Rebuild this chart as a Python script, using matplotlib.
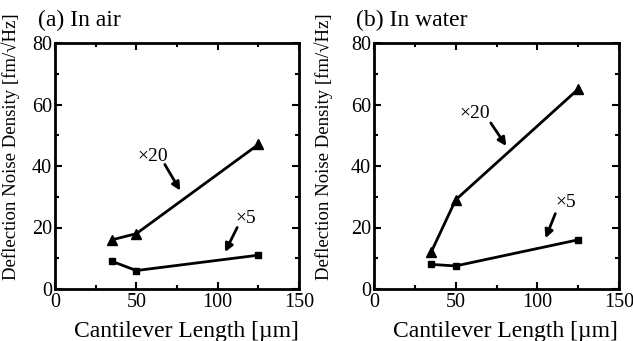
import matplotlib
matplotlib.use("Agg")
import matplotlib.pyplot as plt
from matplotlib.ticker import MultipleLocator

plt.rcParams['font.family'] = ['Liberation Serif', 'DejaVu Serif']
plt.rcParams['mathtext.fontset'] = 'stix'

lengths = [35, 50, 125]
air_x20 = [16, 18, 47]
air_x5 = [9, 6, 11]
water_x20 = [12, 29, 65]
water_x5 = [8, 7.5, 16]

titles = ["(a) In air", "(b) In water"]
xlabel = "Cantilever Length [µm]"
ylabel = "Deflection Noise Density [fm/√Hz]"

# annotation: (text pos, arrow start, arrow end)
ann = [
    [("×20", (60, 43), (67.5, 40.5), (77, 32)),
     ("×5", (117, 23), (112, 20), (104.5, 12))],
    [("×20", (61.5, 57), (71.5, 54), (81, 46.5)),
     ("×5", (117.5, 28), (111, 24.5), (105, 16.5))],
]

fig = plt.figure(figsize=(6.33, 3.41), dpi=100)
axes = [fig.add_axes([55/633, 1-289/341, 244/633, 246/341]),
        fig.add_axes([374/633, 1-289/341, 245/633, 246/341])]
data = [(air_x20, air_x5), (water_x20, water_x5)]
ylab_x = [-0.143, -0.167]
title_x = [38, 356]

for i, ax in enumerate(axes):
    t, s = data[i]
    ax.plot(lengths, t, color='black', lw=2, marker='^', ms=6.5)
    ax.plot(lengths, s, color='black', lw=2, marker='s', ms=5)
    ax.set_xlim(0, 150)
    ax.set_ylim(0, 80)
    ax.xaxis.set_major_locator(MultipleLocator(50))
    ax.xaxis.set_minor_locator(MultipleLocator(25))
    ax.yaxis.set_major_locator(MultipleLocator(20))
    ax.yaxis.set_minor_locator(MultipleLocator(10))
    ax.tick_params(which='both', direction='in', top=True, right=True,
                   labelsize=14.5, width=1.5)
    ax.tick_params(axis='x', pad=3)
    ax.tick_params(axis='y', pad=2)
    ax.tick_params(which='major', length=5)
    ax.tick_params(which='minor', length=3)
    for sp in ax.spines.values():
        sp.set_linewidth(2)
    ax.set_xlabel(xlabel, fontsize=17)
    ax.set_ylabel(ylabel, fontsize=13.5)
    ax.xaxis.set_label_coords(0.537, -0.13)
    ax.yaxis.set_label_coords(ylab_x[i], 0.58)
    fig.text(title_x[i]/633, 1-26/341, titles[i], fontsize=17,
             ha='left', va='baseline')
    for txt, tp, a0, a1 in ann[i]:
        ax.text(tp[0], tp[1], txt, fontsize=14, ha='center', va='center')
        ax.annotate('', xy=a1, xytext=a0,
                    arrowprops=dict(arrowstyle='-|>', lw=2, color='black',
                                    mutation_scale=12, shrinkA=0, shrinkB=0))

fig.savefig("out.png", dpi=100)
